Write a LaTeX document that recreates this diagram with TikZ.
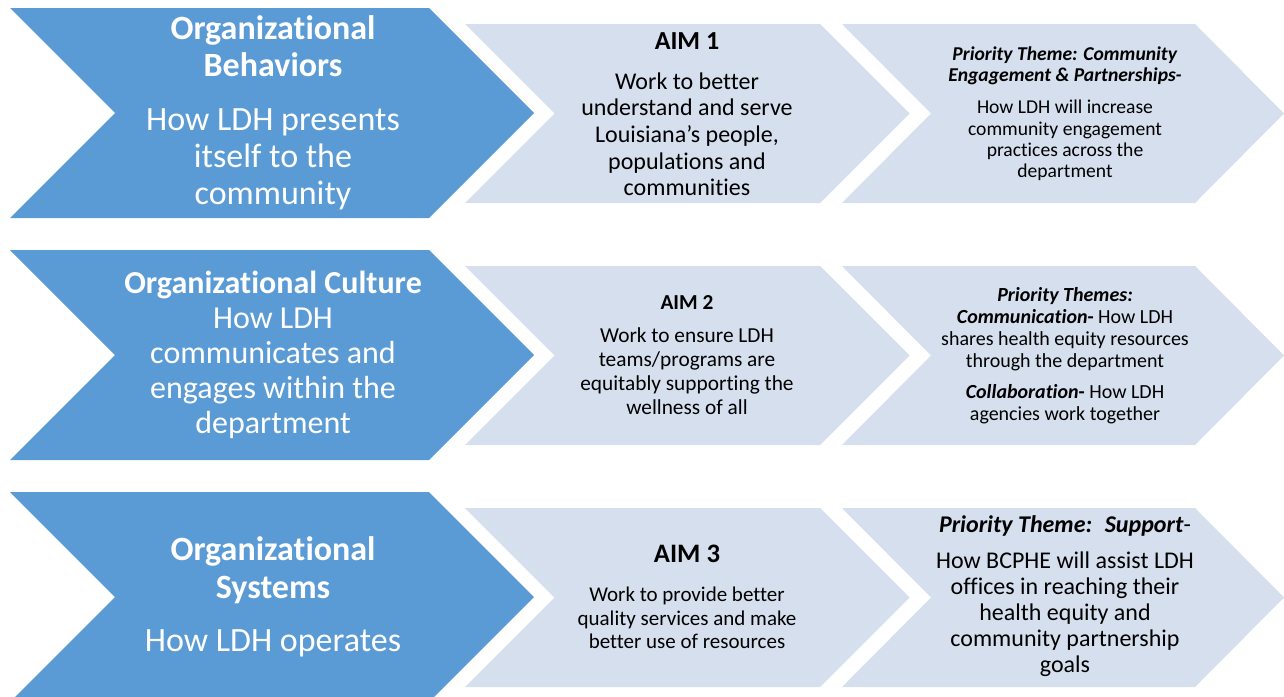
\documentclass[tikz,border=0pt]{standalone}
\usepackage{fontspec}
\setmainfont{Carlito}[Ligatures=NoCommon, Contextuals=NoAlternate]
\usepackage{tikz}

\definecolor{arrowdark}{HTML}{5B9BD5}
\definecolor{arrowlight}{HTML}{D5DFEE}

\begin{document}
\begin{tikzpicture}[x=0.75pt,y=-0.75pt,
        darkarrow/.style={fill=arrowdark},
        lightarrow/.style={fill=arrowlight},
        lefttext/.style={text=white, align=center, font=\fontsize{25.5}{28}\selectfont},
        righttext/.style={text=black, align=center}]
        \useasboundingbox (0,0) rectangle (1284,696);
        \clip (0,0) rectangle (1284,696);

        % row 1
        \fill[darkarrow] (10,8) -- (429,8) -- (534,113) -- (429,218) -- (10,218) -- (115,113) -- cycle;
        \fill[lightarrow] (465,24) -- (820,24) -- (909.5,113.5) -- (820,203) -- (465,203) -- (554.5,113.5) -- cycle;
        \fill[lightarrow] (842,24) -- (1195,24) -- (1284,113.5) -- (1195,203) -- (842,203) -- (931,113.5) -- cycle;

        % row 2
        \fill[darkarrow] (10,250) -- (429,250) -- (534,355) -- (429,460) -- (10,460) -- (115,355) -- cycle;
        \fill[lightarrow] (465,266) -- (820,266) -- (909.5,355.5) -- (820,445) -- (465,445) -- (554.5,355.5) -- cycle;
        \fill[lightarrow] (842,266) -- (1195,266) -- (1284,355.5) -- (1195,445) -- (842,445) -- (931,355.5) -- cycle;

        % row 3
        \fill[darkarrow] (10,492) -- (429,492) -- (534,597) -- (429,702) -- (10,702) -- (115,597) -- cycle;
        \fill[lightarrow] (465,508) -- (820,508) -- (909.5,597.5) -- (820,687) -- (465,687) -- (554.5,597.5) -- cycle;
        \fill[lightarrow] (842,508) -- (1195,508) -- (1284,597.5) -- (1195,687) -- (842,687) -- (931,597.5) -- cycle;

        \node[lefttext] (behav) at (273,113) {\textbf{Organizational}\\\textbf{Behaviors}\\[12pt]How LDH presents\\itself to the\\community};
        \node[lefttext, font=\fontsize{24}{26.3}\selectfont] (culture) at (273,355) {\textbf{Organizational Culture}\\How LDH\\communicates and\\engages within the\\department};
        \node[lefttext] (systems) at (273,597) {\textbf{Organizational}\\\textbf{Systems}\\[12pt]How LDH operates};

        \node[righttext, font=\fontsize{18}{20}\selectfont] (aim1) at (687,114) {{\bfseries\fontsize{19.5}{20}\selectfont AIM 1}\\[10pt]Work to better\\understand and serve\\Louisiana’s people,\\populations and\\communities};
        \node[righttext, font=\fontsize{16}{18}\selectfont] (aim2) at (687,355) {{\bfseries AIM 2}\\[7pt]Work to ensure LDH\\teams/programs are\\equitably supporting the\\wellness of all};
        \node[righttext, font=\fontsize{15.75}{17.6}\selectfont] (aim3) at (687,597) {{\bfseries\fontsize{20}{20}\selectfont AIM 3}\\[12pt]Work to provide better\\quality services and make\\better use of resources};

        \node[righttext, font=\fontsize{14.7}{16}\selectfont] (theme1) at (1065,114) {\textbf{\textit{Priority Theme: Community}}\\\textbf{\textit{Engagement \& Partnerships-}}\\[8pt]How LDH will increase\\community engagement\\practices across the\\department};
        \node[righttext, font=\fontsize{15}{16.5}\selectfont] (theme2) at (1065,356) {\textbf{\textit{Priority Themes:}}\\\textbf{\textit{Communication}-} How LDH\\shares health equity resources\\through the department\\[7pt]\textbf{\textit{Collaboration}-} How LDH\\agencies work together};
        \node[righttext, font=\fontsize{18}{19.5}\selectfont] (theme3) at (1065,596) {\textbf{\textit{Priority Theme:~ Support}}-\\[8pt]How BCPHE will assist LDH\\offices in reaching their\\health equity and\\community partnership\\goals};
    \end{tikzpicture}
\end{document}
